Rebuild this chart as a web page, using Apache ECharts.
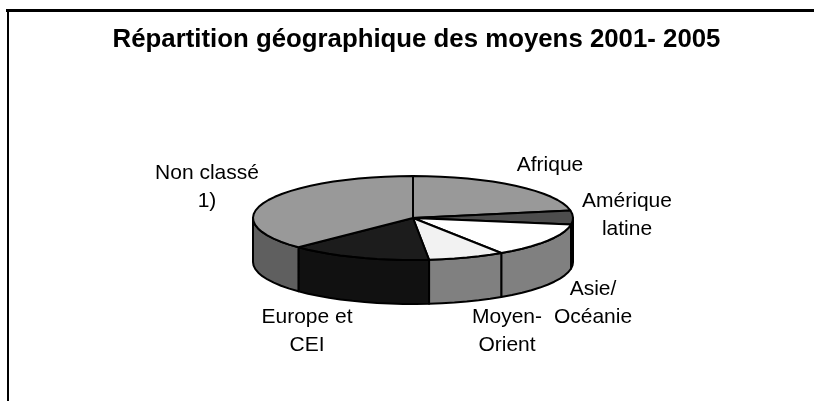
<!DOCTYPE html>
<html><head><meta charset="utf-8">
<script src="https://cdn.jsdelivr.net/npm/echarts@6/dist/echarts.min.js"></script>
<style>html,body{margin:0;padding:0;background:#fff}#c{width:814px;height:401px}</style>
</head><body><div id="c"></div>
<script>
var categories = ['Afrique','Amérique latine','Asie/ Océanie','Moyen-Orient','Europe et CEI','Non classé 1)'];
var shares = [22.1, 5.4, 13.2, 7.7, 14.3, 37.3];

var topColors = ['#999999','#4d4d4d','#ffffff','#f2f2f2','#1c1c1c','#999999'];
var sideColors = ['#777777','#333333','#808080','#808080','#111111','#5f5f5f'];
var cx = 413, cy = 218, rx = 160, ry = 42, depth = 44, STEP = 5;
var total = shares.reduce(function(a,b){return a+b;},0);
var starts = []; shares.reduce(function(acc,v,i){starts[i]=acc;return acc+v;},0);

function pt(deg, dy){ var r = deg*Math.PI/180; return [cx+rx*Math.sin(r), cy-ry*Math.cos(r)+(dy||0)]; }
function arc(a,b,dy){ var out=[], n=Math.max(1,Math.ceil((b-a)/STEP)); for(var i=0;i<=n;i++) out.push(pt(a+(b-a)*i/n,dy)); return out; }
var line = {stroke:'#000', lineWidth:2, lineJoin:'round'};

function renderItem(params, api){
  var i = params.dataIndex, a = api.value(1)/total*360, b = a + api.value(0)/total*360;
  var children = [];
  var fa = Math.max(a,90), fb = Math.min(b,270);
  if (fa < fb) {
    var t = arc(fa,fb,0), u = arc(fa,fb,depth).reverse();
    children.push({type:'polygon', shape:{points:t.concat(u)}, style:Object.assign({fill:sideColors[i]},line)});
  }
  children.push({type:'polygon', shape:{points:[[cx,cy]].concat(arc(a,b,0))}, style:Object.assign({fill:topColors[i]},line)});
  return {type:'group', children:children};
}

var labels = [
  {t:'Afrique', x:550, y:165},
  {t:'Amérique\nlatine', x:627, y:215},
  {t:'Asie/\nOcéanie', x:593, y:303},
  {t:'Moyen-\nOrient', x:507, y:331},
  {t:'Europe et\nCEI', x:307, y:331},
  {t:'Non classé\n1)', x:207, y:187}
];
var graphics = labels.map(function(l){
  return {type:'text', x:l.x, y:l.y, silent:true,
    style:{text:l.t, fill:'#000', font:'21px "Liberation Sans"', lineHeight:28, align:'center', verticalAlign:'middle'}};
});
graphics.push({type:'rect', shape:{x:7,y:10,width:2,height:391}, style:{fill:'#000'}});
graphics.push({type:'rect', shape:{x:6,y:9,width:808,height:3}, style:{fill:'#000'}});

var chart = echarts.init(document.getElementById('c'), null, {renderer:'canvas'});
chart.setOption({
  animation:false,
  backgroundColor:'#fff',
  title:{text:'Répartition géographique des moyens 2001- 2005', left:411.5, top:22, textAlign:'center',
    textStyle:{fontFamily:'Liberation Sans', fontWeight:'bold', fontSize:25.8, color:'#000'}},
  graphic:graphics,
  series:[{type:'custom', coordinateSystem:'none', renderItem:renderItem, silent:true,
    data:categories.map(function(c,i){return {name:c, value:[shares[i], starts[i]]};})}]
});
</script></body></html>
